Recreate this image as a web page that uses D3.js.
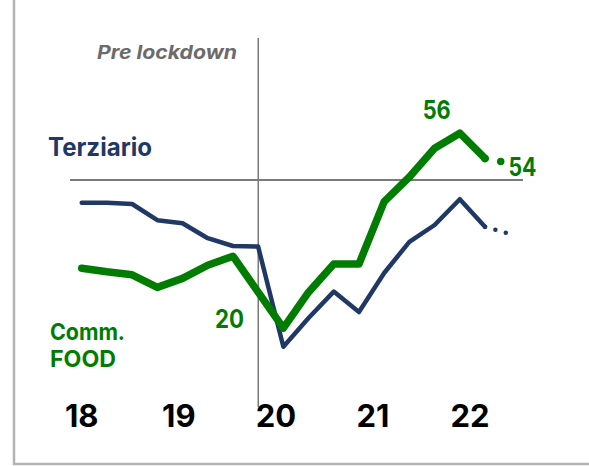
<!DOCTYPE html>
<html>
<head>
<meta charset="utf-8">
<script src="https://cdn.jsdelivr.net/npm/d3@7"></script>
<style>
  body { margin: 0; background: #fff; }
  svg { display: block; font-family: Inter, "Open Sans", sans-serif; }
</style>
</head>
<body>
<div id="chart"></div>
<script>
// quarterly readings, 2018 Q1 .. 2022 Q1, plus the 2022 Q2 estimate
const quarters = d3.range(17)
const years = ["18", "19", "20", "21", "22"]

const commFood = [35.3, 34.7, 34.2, 32.1, 33.6, 35.8, 37.3, 31.3, 25.3, 31.3, 36.0, 36.0, 46.4, 50.5, 55.3, 57.8, 53.6]
const terziario = [46.2, 46.2, 46.0, 43.3, 42.8, 40.3, 39.0, 38.9, 22.2, 27.0, 31.4, 28.0, 34.5, 39.7, 42.5, 46.8, 42.2]
const commFoodNext = 52.8
const terziarioNext = 41.0

const threshold = 50
const lockdownAt = 7 // last pre-lockdown quarter

const width = 589
const height = 466

const GREEN = "#007d00"
const NAVY = "#1f3864"
const GRID = "#7a7a7a"

const svg = d3.select("#chart").append("svg")
  .attr("width", width)
  .attr("height", height)

const x = d3.scaleLinear().domain([0, 16]).range([81.7, 485])
const y = d3.scaleLinear().domain([20, 60]).range([360, 120])
const yearX = d3.scalePoint().domain(years).range([81.7, 470])

// frame (left + bottom)
svg.append("path")
  .attr("d", `M14,0 V464 H${width}`)
  .attr("fill", "none")
  .attr("stroke", "#b3b3b3")
  .attr("stroke-width", 2.5)

// 50 line and lockdown divider
svg.append("line")
  .attr("x1", 70).attr("x2", 523)
  .attr("y1", y(threshold)).attr("y2", y(threshold))
  .attr("stroke", GRID)
  .attr("stroke-width", 2)

const divX = (x(lockdownAt) + x(lockdownAt + 1)) / 2 - 12.5
svg.append("line")
  .attr("x1", divX).attr("x2", divX)
  .attr("y1", 38).attr("y2", 407)
  .attr("stroke", GRID)
  .attr("stroke-width", 1.5)

svg.append("text")
  .attr("x", 237).attr("y", 59)
  .attr("text-anchor", "end")
  .attr("font-size", 19)
  .attr("font-weight", 700)
  .attr("font-style", "italic")
  .attr("fill", "#6b6b6b")
  .attr("textLength", 140)
  .attr("lengthAdjust", "spacingAndGlyphs")
  .text("Pre lockdown")

const line = d3.line()
  .x((d, i) => x(i))
  .y(d => y(d))

function drawSeries (values, next, color, w, gap) {
  const last = values.length - 1
  svg.append("path")
    .datum(values)
    .attr("d", line)
    .attr("fill", "none")
    .attr("stroke", color)
    .attr("stroke-width", w)
    .attr("stroke-linejoin", "round")
    .attr("stroke-linecap", "round")

  svg.append("line")
    .attr("x1", x(last)).attr("y1", y(values[last]))
    .attr("x2", x(last + 1)).attr("y2", y(next))
    .attr("stroke", color)
    .attr("stroke-width", w)
    .attr("stroke-linecap", "round")
    .attr("stroke-dasharray", `0 ${gap}`)
}

drawSeries(terziario, terziarioNext, NAVY, 4.5, 10.8)
drawSeries(commFood, commFoodNext, GREEN, 7.5, 16)

// labels (widths taken from the reference lettering)
const labels = [
  {text: "Terziario", x: 48, y: 156, size: 25, len: 104, color: NAVY, anchor: "start"},
  {text: "Comm.", x: 50, y: 340, size: 23, len: 75, color: GREEN, anchor: "start"},
  {text: "FOOD", x: 50, y: 366.5, size: 23, len: 66, color: GREEN, anchor: "start"},
  {text: "20", x: 215, y: 328, size: 25, len: 29, color: GREEN, anchor: "start"},
  {text: "56", x: 422.7, y: 119, size: 25, len: 28, color: GREEN, anchor: "start"},
  {text: "54", x: 508.5, y: 175.5, size: 25, len: 28, color: GREEN, anchor: "start"}
]

svg.selectAll(".note")
  .data(labels)
  .join("text")
  .attr("class", "note")
  .attr("x", d => d.x)
  .attr("y", d => d.y)
  .attr("text-anchor", d => d.anchor)
  .attr("font-size", d => d.size)
  .attr("font-weight", 700)
  .attr("fill", d => d.color)
  .attr("textLength", d => d.len)
  .attr("lengthAdjust", "spacingAndGlyphs")
  .text(d => d.text)

svg.selectAll(".year")
  .data(years)
  .join("text")
  .attr("class", "year")
  .attr("x", d => yearX(d))
  .attr("y", 426.5)
  .attr("text-anchor", "middle")
  .attr("font-size", 31)
  .attr("font-weight", 700)
  .attr("fill", "#000")
  .text(d => d)
</script>
</body>
</html>
